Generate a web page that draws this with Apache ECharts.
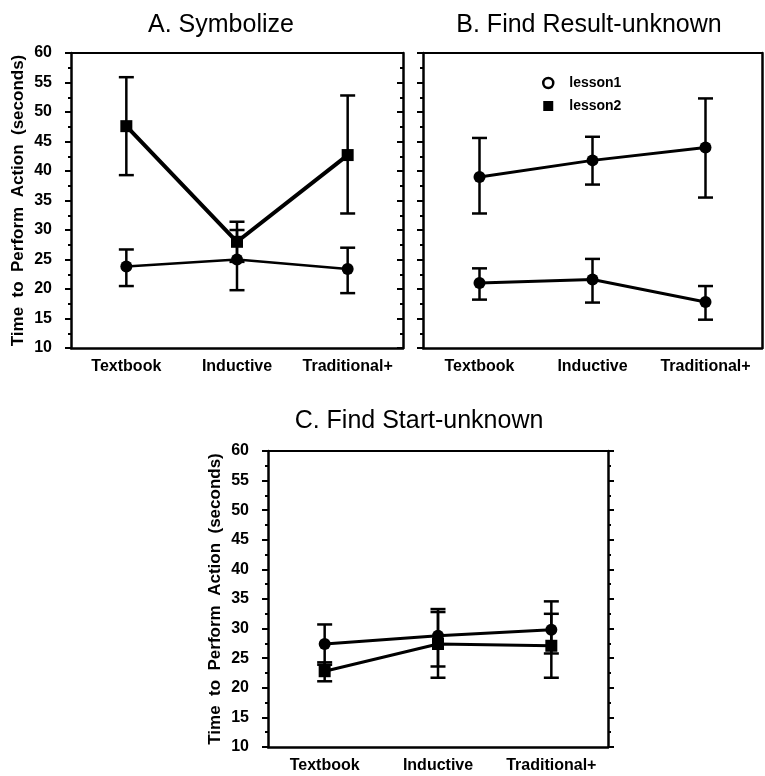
<!DOCTYPE html>
<html>
<head>
<meta charset="utf-8">
<script src="https://cdn.jsdelivr.net/npm/echarts@6/dist/echarts.min.js"></script>
<style>
html,body{margin:0;padding:0;background:#fff;}
#chart{width:765px;height:776px;}
</style>
</head>
<body>
<div id="chart"></div>
<script>
// ---- data ----
var categories = ['Textbook', 'Inductive', 'Traditional+'];
var yTicks = [10, 60, 5]; // min, max, step

var A_lesson1 = [23.8, 25.0, 23.4];
var A_lesson1_lo = [20.5, 19.8, 19.3];
var A_lesson1_hi = [26.7, 30.0, 27.0];
var A_lesson2 = [47.6, 28.0, 42.7];
var A_lesson2_lo = [39.3, 24.6, 32.8];
var A_lesson2_hi = [55.9, 31.4, 52.8];

var B_lesson1 = [21.0, 21.6, 17.8];
var B_lesson1_lo = [18.2, 17.7, 14.8];
var B_lesson1_hi = [23.5, 25.1, 20.5];
var B_lesson2 = [39.0, 41.8, 44.0];
var B_lesson2_lo = [32.8, 37.7, 35.5];
var B_lesson2_hi = [45.6, 45.8, 52.3];

var C_lesson1 = [27.4, 28.8, 29.8];
var C_lesson1_lo = [23.9, 23.6, 25.8];
var C_lesson1_hi = [30.7, 33.3, 34.6];
var C_lesson2 = [22.8, 27.4, 27.1];
var C_lesson2_lo = [21.1, 21.7, 21.7];
var C_lesson2_hi = [24.3, 32.8, 32.5];

var titles = ['A. Symbolize', 'B. Find Result-unknown', 'C. Find Start-unknown'];
var yName = 'Time  to  Perform  Action  (seconds)';

// ---- chart ----
var FONT = '"Liberation Sans", Arial, Helvetica, sans-serif';
var grids = [
  {left: 71, top: 53, width: 332, height: 295},
  {left: 423, top: 53, width: 339, height: 295},
  {left: 268, top: 451, width: 340, height: 296}
];

var xAxes = [], yAxes = [];
grids.forEach(function (g, i) {
  xAxes.push({
    type: 'category', gridIndex: i, data: categories, position: 'bottom',
    boundaryGap: true,
    axisLine: {lineStyle: {color: '#000', width: 2.5}},
    axisTick: {alignWithLabel: true, interval: 0, length: 5, lineStyle: {color: '#000', width: 2}},
    axisLabel: {interval: 0, hideOverlap: false, color: '#000', fontFamily: FONT, fontWeight: 'bold', fontSize: 16, margin: 11},
    splitLine: {show: false}
  });
  xAxes.push({
    type: 'category', gridIndex: i, data: categories, position: 'top',
    boundaryGap: true,
    axisLine: {lineStyle: {color: '#000', width: 2}},
    axisTick: {alignWithLabel: true, interval: 0, length: 6, lineStyle: {color: '#000', width: 2}},
    axisLabel: {show: false, interval: 0},
    splitLine: {show: false}
  });
  var showLabels = (i !== 1);
  yAxes.push({
    type: 'value', gridIndex: i, position: 'left',
    min: yTicks[0], max: yTicks[1], interval: yTicks[2],
    name: showLabels ? yName : '',
    nameLocation: 'middle', nameGap: 44,
    nameTextStyle: {color: '#000', fontFamily: FONT, fontWeight: 'bold', fontSize: 17},
    axisLine: {show: true, lineStyle: {color: '#000', width: 2.5}},
    axisTick: {show: true, length: 6, lineStyle: {color: '#000', width: 2}},
    minorTick: {show: true, splitNumber: 2, length: 3, lineStyle: {color: '#000', width: 2}},
    axisLabel: {show: showLabels, color: '#000', fontFamily: FONT, fontWeight: 'bold', fontSize: 16, margin: 19},
    splitLine: {show: false}
  });
  var rightTicks = (i !== 1);
  yAxes.push({
    type: 'value', gridIndex: i, position: 'right',
    min: yTicks[0], max: yTicks[1], interval: yTicks[2],
    axisLine: {show: true, lineStyle: {color: '#000', width: 2.5}},
    axisTick: {show: rightTicks, inside: (i === 0), length: 6, lineStyle: {color: '#000', width: 2}},
    minorTick: {show: rightTicks, splitNumber: 2, length: 3, lineStyle: {color: '#000', width: 2}},
    axisLabel: {show: false},
    splitLine: {show: false}
  });
});

function errData(lo, hi) {
  return lo.map(function (v, k) { return [k, v, hi[k]]; });
}
function errSeries(name, gi, lo, hi) {
  return {
    type: 'custom', name: name, xAxisIndex: gi * 2, yAxisIndex: gi * 2,
    data: errData(lo, hi), encode: {x: 0, y: [1, 2]}, z: 3, silent: true,
    renderItem: function (params, api) {
      var x = api.value(0);
      var p1 = api.coord([x, api.value(1)]);
      var p2 = api.coord([x, api.value(2)]);
      var hw = 7.5;
      var st = {stroke: '#000', lineWidth: 2.5};
      return {type: 'group', children: [
        {type: 'line', shape: {x1: p1[0], y1: p1[1], x2: p2[0], y2: p2[1]}, style: st},
        {type: 'line', shape: {x1: p1[0] - hw, y1: p1[1], x2: p1[0] + hw, y2: p1[1]}, style: st},
        {type: 'line', shape: {x1: p2[0] - hw, y1: p2[1], x2: p2[0] + hw, y2: p2[1]}, style: st}
      ]};
    }
  };
}
function lineSeries(name, gi, data, symbol, width) {
  return {
    type: 'line', name: name, xAxisIndex: gi * 2, yAxisIndex: gi * 2,
    data: data, symbol: symbol, symbolSize: 12,
    showSymbol: true, z: 4,
    lineStyle: {color: '#000', width: width},
    itemStyle: {color: '#000'}
  };
}

var series = [
  errSeries('lesson1', 0, A_lesson1_lo, A_lesson1_hi),
  errSeries('lesson2', 0, A_lesson2_lo, A_lesson2_hi),
  lineSeries('lesson1', 0, A_lesson1, 'circle', 2.5),
  lineSeries('lesson2', 0, A_lesson2, 'rect', 4),
  errSeries('lesson1', 1, B_lesson1_lo, B_lesson1_hi),
  errSeries('lesson2', 1, B_lesson2_lo, B_lesson2_hi),
  lineSeries('lesson1', 1, B_lesson1, 'circle', 3),
  lineSeries('lesson2', 1, B_lesson2, 'circle', 3),
  errSeries('lesson1', 2, C_lesson1_lo, C_lesson1_hi),
  errSeries('lesson2', 2, C_lesson2_lo, C_lesson2_hi),
  lineSeries('lesson1', 2, C_lesson1, 'circle', 3),
  lineSeries('lesson2', 2, C_lesson2, 'rect', 3)
];

var titleStyle = {color: '#000', fontFamily: FONT, fontWeight: 'normal', fontSize: 25};
var option = {
  backgroundColor: '#fff',
  animation: false,
  title: [
    {text: titles[0], left: 216, top: 8, textAlign: 'center', textStyle: titleStyle},
    {text: titles[1], left: 584, top: 8, textAlign: 'center', textStyle: titleStyle},
    {text: titles[2], left: 414, top: 404, textAlign: 'center', textStyle: titleStyle}
  ],
  legend: {
    orient: 'vertical', left: 537, top: 71, itemWidth: 10, itemHeight: 10, itemGap: 9,
    textStyle: {color: '#000', fontFamily: FONT, fontWeight: 'bold', fontSize: 14, padding: [0, 0, 0, 11]},
    data: [
      {name: 'lesson1', icon: 'circle', itemStyle: {color: '#fff', borderColor: '#000', borderWidth: 2.5}},
      {name: 'lesson2', icon: 'rect', itemStyle: {color: '#000'}}
    ]
  },
  grid: grids,
  xAxis: xAxes,
  yAxis: yAxes,
  series: series
};

var chart = echarts.init(document.getElementById('chart'), null, {renderer: 'canvas'});
chart.setOption(option);
</script>
</body>
</html>
